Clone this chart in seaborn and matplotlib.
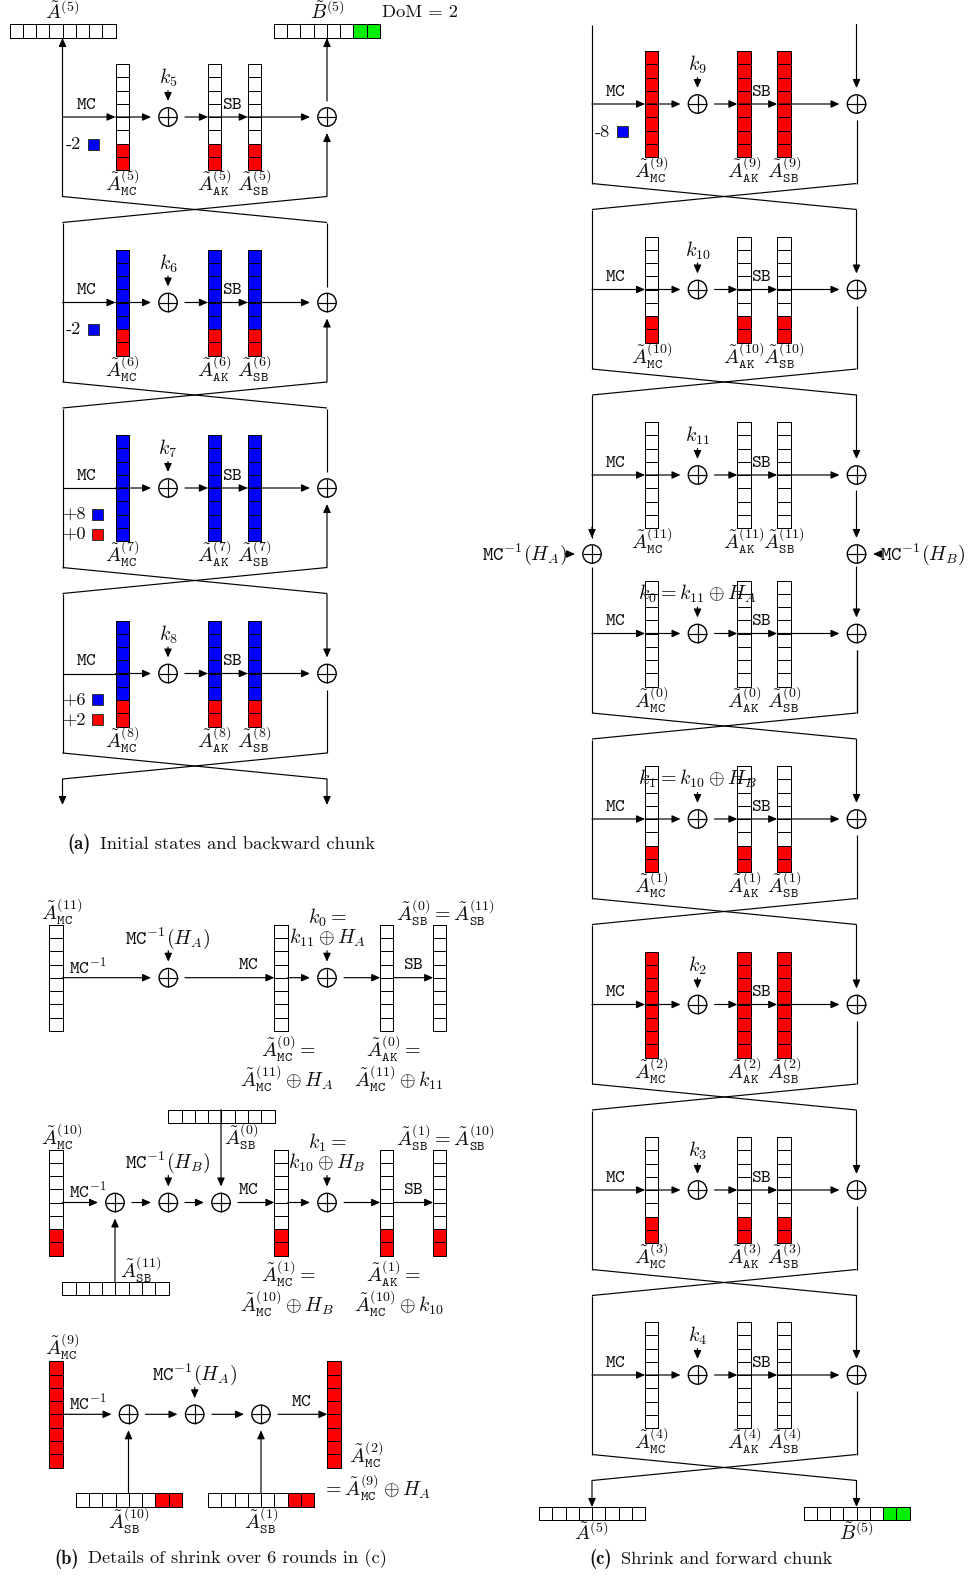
import numpy as np
import matplotlib
matplotlib.use("Agg")
import matplotlib.pyplot as plt
from matplotlib.colors import ListedColormap
from matplotlib.patches import Circle
import seaborn as sns

# ── Data ─────────────────────────────────────────────────────────────────────
# W white, R red, B blue, G green, one letter per cell
ROUNDS_A = [5, 6, 7, 8]
CELLS_A = ["WWWWWWRR", "BBBBBBRR", "BBBBBBBB", "BBBBBBRR"]
ROUNDS_C = [9, 10, 11, 0, 1, 2, 3, 4]
CELLS_C = ["RRRRRRRR", "WWWWWWRR", "WWWWWWWW", "WWWWWWWW",
           "WWWWWWRR", "RRRRRRRR", "WWWWWWRR", "WWWWWWWW"]
BAR_PLAIN = "WWWWWWWW"
BAR_GREEN = "WWWWWWGG"
BAR_RED = "WWWWWWRR"
COL_RED = "RRRRRRRR"
COL_TWO = "WWWWWWRR"
CELL_CODE = {"W": 0, "R": 1, "B": 2, "G": 3}

# ── Config ───────────────────────────────────────────────────────────────────
W, H = 968, 1577
FS = 13.3   # plain text and typewriter
MFS = 14.4  # maths labels
CMAP = ListedColormap(["#ffffff", "#ff0000", "#0000ff", "#00ee00"])

sns.set_theme(style="white", rc={"mathtext.fontset": "cm"})
plt.rcParams["font.family"] = ["cmr10", "DejaVu Sans"]
plt.rcParams["axes.formatter.use_mathtext"] = True

fig = plt.figure(figsize=(W / 100, H / 100), dpi=100, facecolor="white")
ax = fig.add_axes([0, 0, 1, 1], zorder=5)
ax.set_xlim(0, W)
ax.set_ylim(H, 0)
ax.axis("off")
ax.patch.set_alpha(0)


# ── Helpers ──────────────────────────────────────────────────────────────────
def state(x0, y0, cells, vertical=True):
    vals = np.array([CELL_CODE[c] for c in cells], dtype=float)
    vals = vals.reshape(-1, 1) if vertical else vals.reshape(1, -1)
    w, h = (13.3, 106.2) if vertical else (106.2, 13.3)
    a = fig.add_axes([x0 / W, 1 - (y0 + h) / H, w / W, h / H], zorder=1)
    sns.heatmap(vals, ax=a, cmap=CMAP, vmin=-0.5, vmax=3.5, cbar=False,
                linewidths=0.72, linecolor="black",
                xticklabels=False, yticklabels=False)
    a.collections[0].set_clip_on(False)


def line(x0, y0, x1, y1):
    ax.plot([x0, x1], [y0, y1], color="black", lw=0.85, solid_capstyle="butt")


def arrow(x0, y0, x1, y1):
    ax.annotate("", xy=(x1, y1), xytext=(x0, y0),
                arrowprops=dict(arrowstyle="-|>,head_length=0.36,head_width=0.16",
                                color="black", lw=0.85, shrinkA=0, shrinkB=0,
                                mutation_scale=14))


def xor(x, y):
    ax.add_patch(Circle((x, y), 9.2, fill=False, ec="black", lw=1.0))
    line(x - 9.2, y, x + 9.2, y)
    line(x, y - 9.2, x, y + 9.2)


def txt(x, y, s, size=FS, **kw):
    kw.setdefault("ha", "center")
    ax.text(x, y, s, fontsize=size, va="center", color="#111111", **kw)


def mth(x, y, s, **kw):
    txt(x, y, s, size=MFS, **kw)


def lab(n, sub):
    return r"$\tilde{A}^{(%d)}_{\mathtt{%s}}$" % (n, sub)


def square(x, y, colour):
    ax.add_patch(plt.Rectangle((x, y - 5.5), 11, 11, fc=colour, ec="#333333", lw=0.7))


def round_block(xl, cy, n, cells, mc_arrow=True, show_k=True):
    xr = xl + 264.5
    mc, ak, sb, xo = xl + 53, xl + 145.4, xl + 185.2, xl + 105.5
    for x in (mc, ak, sb):
        state(x, cy - 53, cells)
    if mc_arrow:
        arrow(xl, cy, mc, cy)
    else:
        line(xl, cy, mc, cy)
    arrow(mc, cy, xo - 17, cy)
    arrow(xo + 17, cy, ak, cy)
    arrow(ak, cy, sb, cy)
    arrow(sb, cy, xr - 17, cy)
    xor(xo, cy)
    xor(xr, cy)
    arrow(xo, cy - 26.5, xo, cy - 16)
    txt(xl + 23.8, cy - 13, r"$\mathtt{MC}$")
    txt(xl + 169.5, cy - 13, r"$\mathtt{SB}$")
    if show_k:
        mth(xo, cy - 39, r"$k_{%d}$" % n)
    mth(mc + 6.7, cy + 66, lab(n, "MC"))
    mth(ak + 6.7, cy + 66, lab(n, "AK"))
    mth(sb + 6.7, cy + 66, lab(n, "SB"))


def cross(xl, cy):
    line(xl, cy + 79.5, xl + 264.5, cy + 105.5)
    line(xl, cy + 105.5, xl + 264.5, cy + 79.5)


# ── Panel (a) ────────────────────────────────────────────────────────────────
XL_A, XR_A = 62.5, 327
CY_A = [117, 302.5, 488, 673.5]

state(9.5, 24.5, BAR_PLAIN, vertical=False)
state(273.8, 24.5, BAR_GREEN, vertical=False)
mth(62, 12, r"$\tilde{A}^{(5)}$")
mth(327, 12, r"$\tilde{B}^{(5)}$")
txt(382, 12, "DoM = 2", ha="left")

for i, (n, cells, cy) in enumerate(zip(ROUNDS_A, CELLS_A, CY_A)):
    round_block(XL_A, cy, n, cells, mc_arrow=n < 7)
    cross(XL_A, cy)
    if i > 0:
        line(XL_A, cy - 79.5, XL_A, cy + 79.5)
    if n in (6, 7):
        line(XR_A, cy - 79.5, XR_A, cy - 16)
        arrow(XR_A, cy + 79.5, XR_A, cy + 16)
    if n == 8:
        arrow(XR_A, cy - 79.5, XR_A, cy - 16)
        line(XR_A, cy + 16, XR_A, cy + 79.5)

arrow(XL_A, CY_A[0] + 79.5, XL_A, 38)
arrow(XR_A, CY_A[0] - 16, XR_A, 38)
arrow(XR_A, CY_A[0] + 79.5, XR_A, CY_A[0] + 16)
arrow(XL_A, CY_A[3] + 105.5, XL_A, 805)
arrow(XR_A, CY_A[3] + 105.5, XR_A, 805)

for cy in CY_A[:2]:
    txt(66, cy + 27, "-2", ha="left")
    square(88, cy + 27, "#0000ff")
txt(63, CY_A[2] + 26, "+8", ha="left")
square(92, CY_A[2] + 26, "#0000ff")
txt(63, CY_A[2] + 46, "+0", ha="left")
square(92, CY_A[2] + 46, "#ff0000")
txt(63, CY_A[3] + 26, "+6", ha="left")
square(92, CY_A[3] + 26, "#0000ff")
txt(63, CY_A[3] + 46, "+2", ha="left")
square(92, CY_A[3] + 46, "#ff0000")

txt(67.5, 844, "(a)", ha="left", family="cmb10")
txt(99.5, 844, "Initial states and backward chunk", ha="left")

# ── Panel (c) ────────────────────────────────────────────────────────────────
XL_C, XR_C = 592, 856.5
CY_C = [104, 289.5, 475, 633.5, 819, 1004.5, 1190, 1375]

line(XL_C, 24.5, XL_C, CY_C[0] + 79.5)
arrow(XR_C, 24.5, XR_C, CY_C[0] - 16)
for n, cells, cy in zip(ROUNDS_C, CELLS_C, CY_C):
    round_block(XL_C, cy, n, cells, show_k=n not in (0, 1))
    if n != 11:
        cross(XL_C, cy)
    if n not in (9, 0, 11):
        arrow(XR_C, cy - 79.5, XR_C, cy - 16)
        line(XL_C, cy - 79.5, XL_C, cy + 79.5)
    if n != 11:
        line(XR_C, cy + 16, XR_C, cy + 79.5)

# the two extra xors between rounds 11 and 0
Y_MID = 554
line(XL_C, CY_C[1] + 105.5, XL_C, Y_MID - 16)
arrow(XL_C, Y_MID - 27, XL_C, Y_MID - 16)
line(XL_C, Y_MID + 13, XL_C, CY_C[3] + 79.5)
arrow(XR_C, CY_C[1] + 105.5, XR_C, CY_C[2] - 16)
arrow(XR_C, CY_C[2] + 16, XR_C, Y_MID - 16)
arrow(XR_C, Y_MID + 13, XR_C, CY_C[3] - 16)
line(XR_C, CY_C[3] + 16, XR_C, CY_C[3] + 79.5)
xor(XL_C, Y_MID)
xor(XR_C, Y_MID)
mth(524.5, Y_MID, r"$\mathtt{MC}^{-1}(H_A)$")
arrow(565, Y_MID, 575, Y_MID)
mth(923, Y_MID, r"$\mathtt{MC}^{-1}(H_B)$")
arrow(882, Y_MID, 873, Y_MID)
mth(697.5, 594, r"$k_0 = k_{11} \oplus H_A$")
mth(697.5, 779, r"$k_1 = k_{10} \oplus H_B$")

txt(595, 132, "-8", ha="left")
square(617, 131, "#0000ff")

arrow(XL_C, CY_C[7] + 105.5, XL_C, 1507)
arrow(XR_C, CY_C[7] + 105.5, XR_C, 1507)
state(539, 1507, BAR_PLAIN, vertical=False)
state(803.5, 1507, BAR_GREEN, vertical=False)
mth(591, 1533, r"$\tilde{A}^{(5)}$")
mth(856, 1533, r"$\tilde{B}^{(5)}$")
txt(589.5, 1559, "(c)", ha="left", family="cmb10")
txt(621, 1559, "Shrink and forward chunk", ha="left")

# ── Panel (b) ────────────────────────────────────────────────────────────────
X_COLS = [49.4, 274.4, 380.2, 433.2]
Y1, Y2, Y3 = 977.7, 1202.5, 1414.3

# row 1
for x in X_COLS:
    state(x, Y1 - 53, BAR_PLAIN)
xor(168.3, Y1)
xor(327, Y1)
arrow(62.7, Y1, 151, Y1)
arrow(185, Y1, 274.4, Y1)
arrow(287.7, Y1, 310, Y1)
arrow(344, Y1, 380.2, Y1)
arrow(393.5, Y1, 433.2, Y1)
arrow(168.3, Y1 - 27, 168.3, Y1 - 16)
arrow(327, Y1 - 27, 327, Y1 - 16)
mth(62, Y1 - 66, lab(11, "MC"))
txt(88, Y1 - 12, r"$\mathtt{MC}^{-1}$")
mth(168, Y1 - 40, r"$\mathtt{MC}^{-1}(H_A)$")
txt(248, Y1 - 13, r"$\mathtt{MC}$")
mth(327, Y1 - 60, r"$k_0 =$")
mth(327, Y1 - 40, r"$k_{11} \oplus H_A$")
txt(413, Y1 - 13, r"$\mathtt{SB}$")
mth(445.5, Y1 - 65, lab(0, "SB")[:-1] + r" = " + lab(11, "SB")[1:])
mth(288, Y1 + 71.5, lab(0, "MC")[:-1] + r" =$")
mth(287, Y1 + 101, lab(11, "MC")[:-1] + r" \oplus H_A$")
mth(393.5, Y1 + 71.5, lab(0, "AK")[:-1] + r" =$")
mth(399, Y1 + 101, lab(11, "MC")[:-1] + r" \oplus k_{11}$")

# row 2
for x in X_COLS:
    state(x, Y2 - 53, COL_TWO)
state(168.3, 1109.8, BAR_PLAIN, vertical=False)
state(62.3, 1281.7, BAR_PLAIN, vertical=False)
for x in (115, 168.3, 221, 327):
    xor(x, Y2)
arrow(62.7, Y2, 98, Y2)
arrow(132, Y2, 151, Y2)
arrow(185, Y2, 204, Y2)
arrow(238, Y2, 274.4, Y2)
arrow(287.7, Y2, 310, Y2)
arrow(344, Y2, 380.2, Y2)
arrow(393.5, Y2, 433.2, Y2)
arrow(168.3, Y2 - 27, 168.3, Y2 - 16)
arrow(327, Y2 - 27, 327, Y2 - 16)
arrow(221, 1109.8, 221, Y2 - 16)
arrow(115, 1281.7, 115, Y2 + 16)
mth(62, Y2 - 66, lab(10, "MC"))
txt(88, Y2 - 12, r"$\mathtt{MC}^{-1}$")
mth(168, Y2 - 40, r"$\mathtt{MC}^{-1}(H_B)$")
mth(241, 1136.5, lab(0, "SB"))
txt(248, Y2 - 13, r"$\mathtt{MC}$")
mth(327, Y2 - 60, r"$k_1 =$")
mth(327, Y2 - 40, r"$k_{10} \oplus H_B$")
txt(413, Y2 - 13, r"$\mathtt{SB}$")
mth(445.5, Y2 - 65, lab(1, "SB")[:-1] + r" = " + lab(10, "SB")[1:])
mth(141, 1270, lab(11, "SB"))
mth(288, Y2 + 71.5, lab(1, "MC")[:-1] + r" =$")
mth(287, Y2 + 101, lab(10, "MC")[:-1] + r" \oplus H_B$")
mth(393.5, Y2 + 71.5, lab(1, "AK")[:-1] + r" =$")
mth(399, Y2 + 101, lab(10, "MC")[:-1] + r" \oplus k_{10}$")

# row 3
state(49.4, Y3 - 53, COL_RED)
state(327.4, Y3 - 53, COL_RED)
state(75.7, 1493.4, BAR_RED, vertical=False)
state(208, 1493.4, BAR_RED, vertical=False)
for x in (128.5, 194.7, 261):
    xor(x, Y3)
arrow(62.7, Y3, 111.5, Y3)
arrow(145.5, Y3, 177.5, Y3)
arrow(212, Y3, 244, Y3)
arrow(278, Y3, 327.4, Y3)
arrow(194.7, Y3 - 27, 194.7, Y3 - 16)
arrow(128.5, 1493.4, 128.5, Y3 + 16)
arrow(261, 1493.4, 261, Y3 + 16)
mth(62, Y3 - 67.5, lab(9, "MC"))
txt(88, Y3 - 12, r"$\mathtt{MC}^{-1}$")
mth(194.5, Y3 - 40, r"$\mathtt{MC}^{-1}(H_A)$")
txt(301, Y3 - 13, r"$\mathtt{MC}$")
mth(366, 1455, lab(2, "MC"))
mth(322, 1488, r"$=$" + lab(9, "MC")[:-1] + r" \oplus H_A$", ha="left")
mth(128.5, 1521, lab(10, "SB"))
mth(261, 1521, lab(1, "SB"))
txt(54, 1559, "(b)", ha="left", family="cmb10")
txt(88, 1559, "Details of shrink over 6 rounds in (c)", ha="left")

fig.savefig("out.png", dpi=100, facecolor="white")
plt.close()
